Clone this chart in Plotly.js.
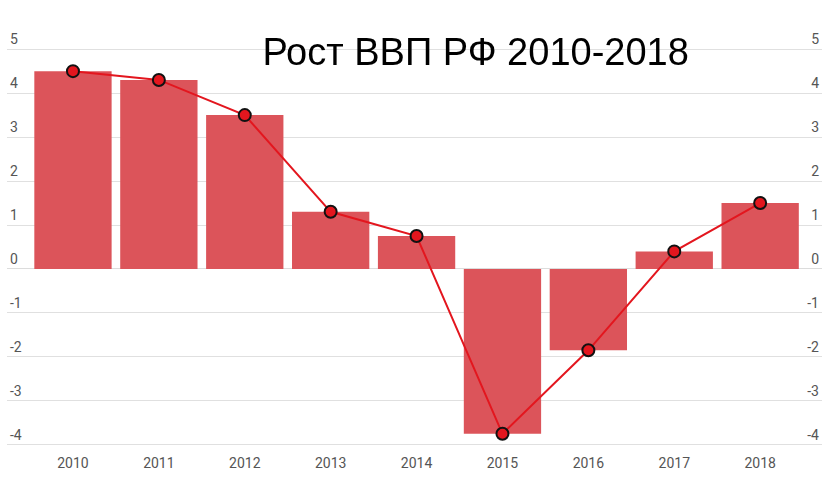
<!DOCTYPE html>
<html>
<head>
<meta charset="utf-8">
<script src="https://cdn.plot.ly/plotly-3.0.1.min.js"></script>
<style>html,body{margin:0;padding:0;background:#fff;}#chart{width:833px;height:481px;}</style>
</head>
<body>
<div id="chart"></div>
<script>
const years = ['2010','2011','2012','2013','2014','2015','2016','2017','2018'];
const gdpGrowth = [4.5, 4.3, 3.5, 1.3, 0.75, -3.75, -1.85, 0.4, 1.5];
const yTicks = [-4,-3,-2,-1,0,1,2,3,4,5];
const yTickText = ['-4','-3','-2','-1','0','1','2','3','4','5'];
const chartTitle = 'Рост ВВП РФ 2010-2018';

const tickFont = {family: 'Roboto, sans-serif', size: 14, color: '#555'};

const traces = [
  {type: 'bar', x: years, y: gdpGrowth, marker: {color: '#dc545a'}, hoverinfo: 'none'},
  {type: 'scatter', mode: 'lines+markers', x: years, y: gdpGrowth,
   line: {color: '#e3161e', width: 2},
   marker: {size: 12, color: '#e3161e', line: {color: '#111', width: 2}}, hoverinfo: 'none'},
  {type: 'scatter', mode: 'markers', x: years, y: gdpGrowth, yaxis: 'y2', opacity: 0, hoverinfo: 'none'}
];

const yr = [-4.05, 5.8];
const layout = {
  width: 833, height: 481,
  margin: {l: 7, r: 11, t: 49.3 - 0.8 * 44, b: 33.5},
  paper_bgcolor: '#fff', plot_bgcolor: '#fff',
  showlegend: false,
  bargap: 0.1,
  title: {text: chartTitle, font: {family: 'Liberation Sans, Arial, sans-serif', size: 38, color: '#000'},
          x: 0.571, xref: 'container', xanchor: 'center', y: 1 - 52/481, yref: 'container', yanchor: 'middle'},
  xaxis: {type: 'category', range: [-0.768, 8.72], showgrid: false, zeroline: false, showline: false,
          ticks: '', tickfont: tickFont, ticklabelstandoff: 6, fixedrange: true},
  yaxis: {range: yr, tickvals: yTicks, ticktext: yTickText, showgrid: true, gridcolor: '#e0e0e0', gridwidth: 1,
          zeroline: true, zerolinecolor: '#dcdcdc', zerolinewidth: 1, showline: false,
          ticks: '', ticklabelposition: 'inside top', tickfont: tickFont},
  yaxis2: {range: yr, tickvals: yTicks, ticktext: yTickText, overlaying: 'y', side: 'right', showgrid: false,
           zeroline: false, showline: false, ticks: '', ticklabelposition: 'inside top', tickfont: tickFont}
};

Plotly.newPlot('chart', traces, layout, {staticPlot: true, displayModeBar: false});
</script>
</body>
</html>
